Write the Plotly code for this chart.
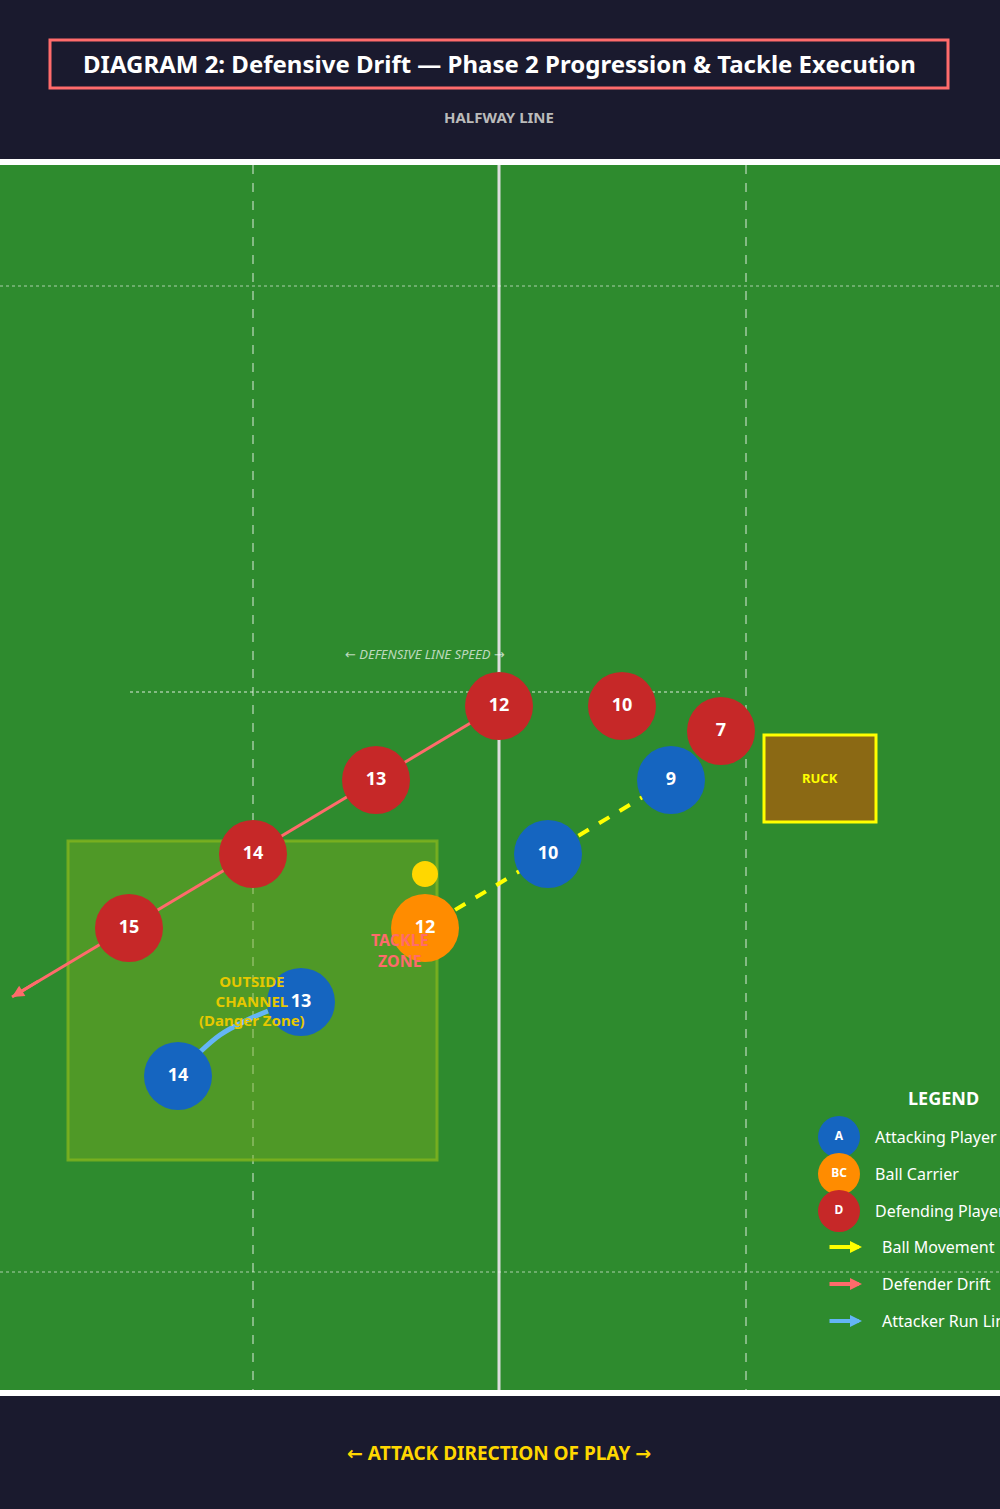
import plotly.graph_objects as go

# positions in pitch pixel units (x right, y down)
def_nums = ["12", "10", "7", "13", "14", "15"]
def_x = [499, 622, 721, 376, 253, 129]
def_y = [706, 706, 731, 780, 854, 928]
att_nums = ["9", "10", "13", "14"]
att_x = [671, 548, 301, 178]
att_y = [780, 854, 1002, 1076]
bc_num = ["12"]
bc_x = [425]
bc_y = [928]
ball_x, ball_y = [425], [874]
pass_x = [671, 425]
pass_y = [780, 928]
drift_x = [499, 12]
drift_y = [706, 997]
run_x = [200, 220, 245, 268]
run_y = [1052, 1035, 1021, 1011]
legend_labels = ["Attacking Player", "Ball Carrier", "Defending Player"]
legend_codes = ["A", "BC", "D"]
legend_y = [1137, 1174, 1211]
line_labels = ["Ball Movement", "Defender Drift", "Attacker Run Line"]
line_y = [1247, 1284, 1321]

RED, BLUE, ORANGE = "#c62828", "#1565c0", "#ff8c00"
FONT = "Noto Sans"
ARR = "<span style='font-family:DejaVu Sans'>{}</span>"

fig = go.Figure()

shapes = [
    dict(type="rect", x0=0, x1=1000, y0=0, y1=160, fillcolor="#1a1a2e", line_width=0, layer="below"),
    dict(type="rect", x0=0, x1=1000, y0=1395, y1=1509, fillcolor="#1a1a2e", line_width=0, layer="below"),
    dict(type="rect", x0=0, x1=1000, y0=163, y1=1392, fillcolor="#2e8b2e", line_width=0, layer="below"),
    dict(type="line", x0=0, x1=1000, y0=162, y1=162, line=dict(color="white", width=6)),
    dict(type="line", x0=0, x1=1000, y0=1393, y1=1393, line=dict(color="white", width=6)),
    dict(type="line", x0=499, x1=499, y0=165, y1=1391, line=dict(color="#dddddd", width=3), layer="below"),
    dict(type="line", x0=253, x1=253, y0=165, y1=1391, line=dict(color="rgba(255,255,255,0.55)", width=1.5, dash="dash"), layer="below"),
    dict(type="line", x0=746, x1=746, y0=165, y1=1391, line=dict(color="rgba(255,255,255,0.55)", width=1.5, dash="dash"), layer="below"),
    dict(type="line", x0=0, x1=1000, y0=286, y1=286, line=dict(color="rgba(255,255,255,0.4)", width=1.5, dash="dot"), layer="below"),
    dict(type="line", x0=0, x1=1000, y0=1272, y1=1272, line=dict(color="rgba(255,255,255,0.4)", width=1.5, dash="dot"), layer="below"),
    dict(type="line", x0=130, x1=720, y0=692, y1=692, line=dict(color="rgba(255,255,255,0.55)", width=1.5, dash="dot"), layer="below"),
    dict(type="rect", x0=68, x1=437, y0=841, y1=1160, fillcolor="rgba(120,170,30,0.45)",
         line=dict(color="rgba(130,180,30,0.8)", width=3), layer="below"),
    dict(type="rect", x0=764, x1=876, y0=735, y1=822, fillcolor="#8b6914", line=dict(color="#ffff00", width=3)),
    dict(type="rect", x0=50, x1=948, y0=40, y1=88, fillcolor="#1a1a2e", line=dict(color="#ff6b6b", width=3)),
]

# lines
fig.add_trace(go.Scatter(x=pass_x, y=pass_y, mode="lines", line=dict(color="#ffff00", width=4, dash="dash"), hoverinfo="skip"))
fig.add_trace(go.Scatter(x=drift_x, y=drift_y, mode="lines", line=dict(color="#ff6b6b", width=3), hoverinfo="skip"))
fig.add_trace(go.Scatter(x=run_x, y=run_y, mode="lines", line=dict(color="#64b5f6", width=5, shape="spline"), hoverinfo="skip"))
fig.add_trace(go.Scatter(x=ball_x, y=ball_y, mode="markers", marker=dict(size=26, color="#ffd700"), hoverinfo="skip"))

ann = [
    dict(x=499, y=63, text="<b>DIAGRAM 2: Defensive Drift — Phase 2 Progression & Tackle Execution</b>",
         font=dict(size=24, color="white")),
    dict(x=499, y=117, text="<b>HALFWAY LINE</b>", font=dict(size=15, color="#bbbbbb")),
    dict(x=499, y=1453, text="<b>" + ARR.format("←") + " ATTACK DIRECTION OF PLAY " + ARR.format("→") + "</b>",
         font=dict(size=19, color="#ffd700")),
    dict(x=425, y=654, text="<i>" + ARR.format("←") + " DEFENSIVE LINE SPEED " + ARR.format("→") + "</i>",
         font=dict(size=13, color="rgba(255,255,255,0.7)")),
    dict(x=820, y=778, text="<b>RUCK</b>", font=dict(size=13, color="#ffff00")),
    dict(x=400, y=950, text="<b>TACKLE<br>ZONE</b>", font=dict(size=16, color="#ff6b6b")),
    dict(x=252, y=1000, text="<b>OUTSIDE<br>CHANNEL<br>(Danger Zone)</b>", font=dict(size=15, color="#e6c800")),
    dict(x=943, y=1098, text="<b>LEGEND</b>", font=dict(size=18, color="white")),
    # drift arrow head
    dict(x=12, y=997, ax=40, ay=980, axref="x", ayref="y", text="", showarrow=True,
         arrowhead=2, arrowsize=0.8, arrowwidth=3, arrowcolor="#ff6b6b"),
]
for lab, y in zip(legend_labels, legend_y):
    ann.append(dict(x=873, y=y, text=lab, xanchor="left", font=dict(size=16, color="white")))
for lab, y, col in zip(line_labels, line_y, ["#ffff00", "#ff6b6b", "#64b5f6"]):
    ann.append(dict(x=862, y=y, ax=828, ay=y, axref="x", ayref="y", text="", showarrow=True,
                    arrowhead=2, arrowsize=0.6, arrowwidth=4, arrowcolor=col))
    ann.append(dict(x=880, y=y, text=lab, xanchor="left", font=dict(size=16, color="white")))
for a in ann:
    a.setdefault("showarrow", False)
    a.setdefault("xref", "x")
    a.setdefault("yref", "y")
    a.setdefault("font", {})["family"] = FONT

def players(xs, ys, nums, color, size=68, fs=18):
    fig.add_trace(go.Scatter(x=xs, y=ys, mode="markers+text", text=nums,
                             marker=dict(size=size, color=color, line_width=0),
                             textfont=dict(color="white", size=fs, family=FONT, weight="bold"),
                             textposition="middle center", hoverinfo="skip"))

players(def_x, def_y, def_nums, RED)
players(att_x, att_y, att_nums, BLUE)
players(bc_x, bc_y, bc_num, ORANGE)
players([839] * 3, legend_y, legend_codes, [BLUE, ORANGE, RED], size=42, fs=12)

fig.update_layout(
    width=1000, height=1509, margin=dict(l=0, r=0, t=0, b=0),
    paper_bgcolor="#1a1a2e", plot_bgcolor="#1a1a2e", showlegend=False,
    shapes=shapes, annotations=ann,
    xaxis=dict(range=[0, 1000], visible=False, fixedrange=True),
    yaxis=dict(range=[1509, 0], visible=False, fixedrange=True),
)
fig.write_html("out.html", config={"displayModeBar": False},
               post_script="document.body.style.margin='0';document.body.style.overflow='hidden';")
